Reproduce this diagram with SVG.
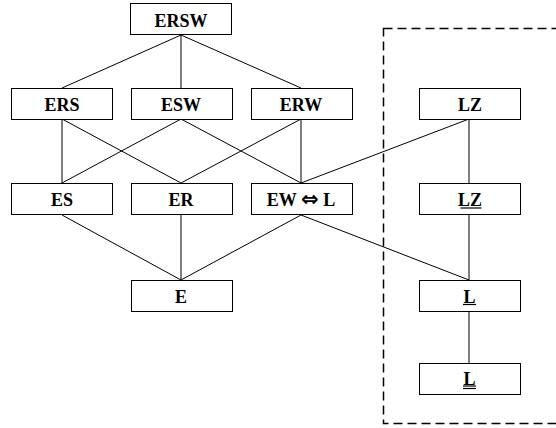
<svg xmlns="http://www.w3.org/2000/svg" width="556" height="428" viewBox="0 0 556 428">
<style>
.box{fill:#fff;stroke:#000;stroke-width:1}
.lbl{font-family:"Liberation Serif","DejaVu Serif",serif;font-weight:bold;font-size:18px;text-anchor:middle;fill:#000}
.arr{font-family:"DejaVu Sans",sans-serif;font-weight:bold;font-size:21px}
.edge{stroke:#000;stroke-width:1;fill:none}
.ul{stroke:#000;stroke-width:1.2}
</style>
<rect x="383.5" y="28.5" width="190" height="395" fill="none" stroke="#000" stroke-width="1.5" stroke-dasharray="9,5"/>
<g id="connectors">
<line class="edge" x1="181" y1="35" x2="62" y2="88"/>
<line class="edge" x1="181" y1="35" x2="181" y2="88"/>
<line class="edge" x1="181" y1="35" x2="301" y2="88"/>
<line class="edge" x1="62" y1="119" x2="62" y2="183"/>
<line class="edge" x1="62" y1="119" x2="181" y2="183"/>
<line class="edge" x1="181" y1="119" x2="62" y2="183"/>
<line class="edge" x1="181" y1="119" x2="301" y2="183"/>
<line class="edge" x1="301" y1="119" x2="181" y2="183"/>
<line class="edge" x1="301" y1="119" x2="301" y2="183"/>
<line class="edge" x1="469" y1="119" x2="301" y2="183"/>
<line class="edge" x1="469" y1="119" x2="469" y2="183"/>
<line class="edge" x1="62" y1="215" x2="181" y2="280"/>
<line class="edge" x1="181" y1="215" x2="181" y2="280"/>
<line class="edge" x1="301" y1="215" x2="181" y2="280"/>
<line class="edge" x1="301" y1="215" x2="469" y2="280"/>
<line class="edge" x1="469" y1="215" x2="469" y2="280"/>
<line class="edge" x1="469" y1="312" x2="469" y2="363"/>
</g>
<g id="ERSW"><rect class="box" x="130.5" y="3.5" width="101" height="31"/><text class="lbl" x="181" y="26.5">ERSW</text></g>
<g id="ERS"><rect class="box" x="11.5" y="88.5" width="101" height="31"/><text class="lbl" x="62" y="111">ERS</text></g>
<g id="ESW"><rect class="box" x="131.5" y="88.5" width="101" height="31"/><text class="lbl" x="181" y="111">ESW</text></g>
<g id="ERW"><rect class="box" x="251.5" y="88.5" width="101" height="31"/><text class="lbl" x="301" y="111">ERW</text></g>
<g id="LZ"><rect class="box" x="419.5" y="88.5" width="101" height="31"/><text class="lbl" x="470" y="111">LZ</text></g>
<g id="ES"><rect class="box" x="11.5" y="183.5" width="101" height="31"/><text class="lbl" x="62" y="206">ES</text></g>
<g id="ER"><rect class="box" x="131.5" y="183.5" width="101" height="31"/><text class="lbl" x="181" y="206">ER</text></g>
<g id="EWL"><rect class="box" x="251.5" y="183.5" width="101" height="31"/><text class="lbl" x="301" y="206">EW <tspan class="arr">⇔</tspan> L</text></g>
<g id="LZu"><rect class="box" x="419.5" y="183.5" width="101" height="31"/><text class="lbl" x="470" y="206">LZ</text><line class="ul" x1="460.5" y1="208" x2="481.5" y2="208"/></g>
<g id="E"><rect class="box" x="131.5" y="280.5" width="101" height="31"/><text class="lbl" x="181" y="302.5">E</text></g>
<g id="Lu"><rect class="box" x="419.5" y="280.5" width="101" height="31"/><text class="lbl" x="469.5" y="302.5">L</text><line class="ul" x1="463" y1="304.5" x2="476" y2="304.5"/></g>
<g id="Luu"><rect class="box" x="419.5" y="363.5" width="101" height="31"/><text class="lbl" x="469.5" y="384.5">L</text><line class="ul" x1="463" y1="386" x2="476" y2="386"/><line class="ul" x1="463" y1="388.5" x2="476" y2="388.5"/></g>
</svg>
